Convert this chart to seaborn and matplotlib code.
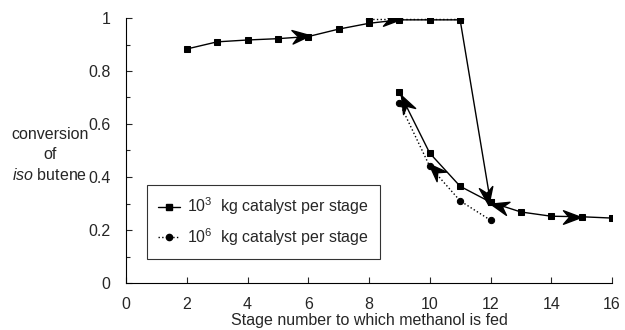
import numpy as np
import pandas as pd
import matplotlib
matplotlib.use("Agg")
import matplotlib.pyplot as plt
import seaborn as sns
from matplotlib.path import Path
from matplotlib.markers import MarkerStyle
from matplotlib.lines import Line2D
from matplotlib.ticker import MultipleLocator

# ---- data ----
stages_main = [2, 3, 4, 5, 6, 7, 8, 9, 10, 11, 12, 13, 14, 15, 16]
conv_main = [0.883, 0.91, 0.917, 0.922, 0.93, 0.958, 0.98, 0.993, 0.993, 0.993,
             0.305, 0.268, 0.252, 0.25, 0.245]
stages_low1 = [9, 10, 11, 12]
conv_low1 = [0.72, 0.49, 0.365, 0.305]
stages_high2 = [8, 9, 10, 11]
conv_high2 = [0.995, 0.995, 0.995, 0.995]
stages_low2 = [9, 10, 11, 12]
conv_low2 = [0.68, 0.44, 0.31, 0.237]
labels = [r"10$^3$  kg catalyst per stage", r"10$^6$  kg catalyst per stage"]
xticks = [0, 2, 4, 6, 8, 10, 12, 14, 16]
yticks = [0, 0.2, 0.4, 0.6, 0.8, 1]
ytick_labels = ["0", "0.2", "0.4", "0.6", "0.8", "1"]
# arrow heads: x, y, direction (degrees, display)
arrow_x = [5.75, 8.75, 9.2, 10.17, 11.9, 12.28, 14.67]
arrow_y = [0.932, 0.997, 0.68, 0.425, 0.33, 0.292, 0.25]
arrow_ang = [5, 0, 117, 135, -81, 165, 0]

sns.set_style("ticks")
plt.rcParams['font.family'] = ['Liberation Sans', 'DejaVu Sans']
plt.rcParams['mathtext.fontset'] = 'custom'
plt.rcParams['mathtext.rm'] = 'Liberation Sans'
plt.rcParams['mathtext.it'] = 'Liberation Sans:italic'

FS = 11.5
fig = plt.figure(figsize=(6.25, 3.3), dpi=100)
ax = fig.add_axes([126/625, 1 - 283/330, 486/625, 265/330])

kw = dict(color="black", sort=False, estimator=None, ax=ax, legend=False)
sns.lineplot(x=stages_main, y=conv_main, marker="s", markersize=4.5, linewidth=1.0,
             markeredgecolor="black", **kw)
sns.lineplot(x=stages_low1, y=conv_low1, marker="s", markersize=4.5, linewidth=1.0,
             markeredgecolor="black", **kw)
sns.lineplot(x=stages_high2, y=conv_high2, marker="o", markersize=4.5, linewidth=1.0,
             linestyle=":", markeredgecolor="black", **kw)
sns.lineplot(x=stages_low2, y=conv_low2, marker="o", markersize=4.5, linewidth=1.0,
             linestyle=":", markeredgecolor="black", **kw)

# stealth-style arrowhead marker
verts = [(1, 0), (-1, 0.75), (-0.35, 0), (-1, -0.75), (1, 0)]
codes = [Path.MOVETO, Path.LINETO, Path.LINETO, Path.LINETO, Path.CLOSEPOLY]
head = Path(verts, codes)
for xa, ya, ang in zip(arrow_x, arrow_y, arrow_ang):
    ms = MarkerStyle(head).rotated(deg=ang)
    ax.plot([xa], [ya], marker=ms, markersize=13, color="black", linestyle="none")

ax.set_xlim(0, 16)
ax.set_ylim(0, 1)
ax.set_xticks(xticks)
ax.set_yticks(yticks)
ax.set_yticklabels(ytick_labels)
ax.yaxis.set_minor_locator(MultipleLocator(0.1))
ax.tick_params(axis="both", which="both", direction="in", labelsize=FS, width=0.8)
ax.tick_params(axis="both", which="major", length=4)
ax.tick_params(axis="y", which="minor", length=3)
ax.tick_params(axis="x", pad=10)
ax.tick_params(axis="y", pad=11)
sns.despine(ax=ax)
for s in ["left", "bottom"]:
    ax.spines[s].set_linewidth(0.8)
    ax.spines[s].set_color("black")

ax.set_xlabel("Stage number to which methanol is fed", fontsize=FS, labelpad=1)
fig.text(50/625, 1 - 155/330, "conversion\nof\n" + r"$\it{iso}$ butene",
         ha="center", va="center", fontsize=FS, linespacing=1.4)

handles = [Line2D([], [], color="black", marker="s", markersize=4.5, linewidth=1.0),
           Line2D([], [], color="black", marker="o", markersize=4.5, linewidth=1.0, linestyle=":")]
leg = ax.legend(handles, labels, loc="lower left", bbox_to_anchor=(0.043, 0.09),
                frameon=True, fancybox=False, edgecolor="black", fontsize=FS,
                handlelength=1.4, handletextpad=0.4, borderpad=0.7, labelspacing=0.55,
                borderaxespad=0)
leg.get_frame().set_linewidth(0.8)

fig.savefig("out.png", dpi=100)
